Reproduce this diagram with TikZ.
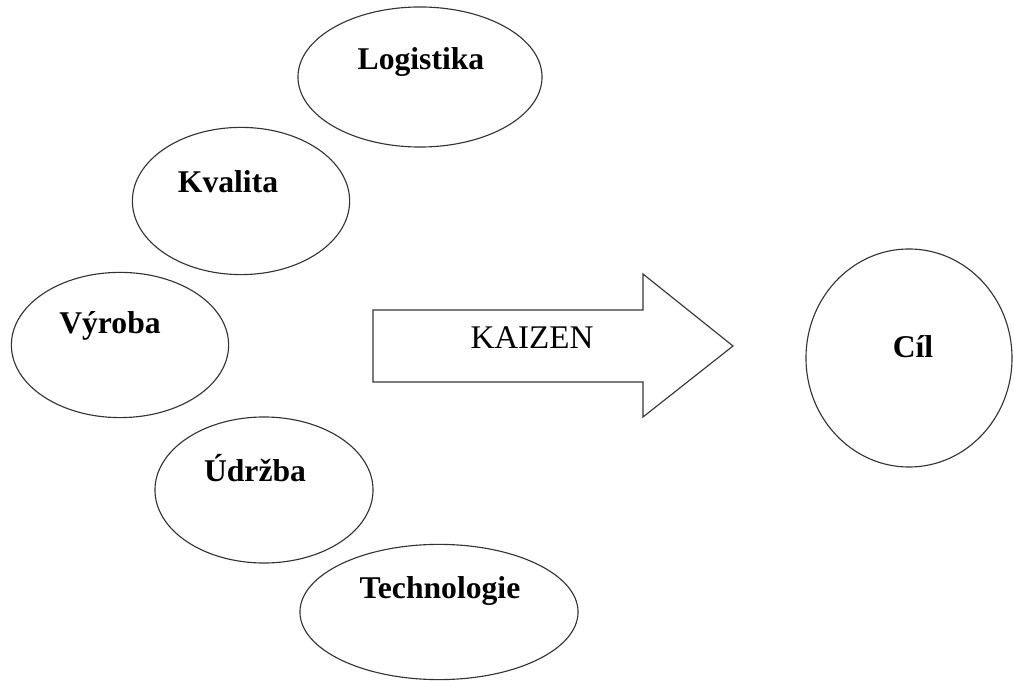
\documentclass[tikz,border=0pt]{standalone}
\usepackage{fontspec}
\setmainfont{Liberation Serif}
\usetikzlibrary{shapes.geometric}
\begin{document}
\begin{tikzpicture}[x=0.025cm,y=-0.025cm,
        area/.style={ellipse,draw=black!80,line width=0.8pt,inner sep=0pt,outer sep=0pt},
        lbl/.style={font=\fontsize{22.5}{24}\selectfont\bfseries,inner sep=0pt}]
\useasboundingbox (0,0) rectangle (1014,681);

\node[area,minimum width=6.1cm,minimum height=3.5cm] (logistika) at (420,77) {};
\node[area,minimum width=5.43cm,minimum height=3.68cm] (kvalita) at (241,201) {};
\node[area,minimum width=5.43cm,minimum height=3.63cm] (vyroba) at (120,345) {};
\node[area,minimum width=5.45cm,minimum height=3.65cm] (udrzba) at (264,490) {};
\node[area,minimum width=6.95cm,minimum height=3.38cm] (technologie) at (439,612) {};
\node[area,minimum width=5.15cm,minimum height=5.45cm] (cil) at (909,358) {};

\node[lbl] (tlogistika) at (421,62) {Logistika};
\node[lbl] (tkvalita) at (228,182) {Kvalita};
\node[lbl] (tvyroba) at (110,326) {Výroba};
\node[lbl] (tudrzba) at (255,468) {Údržba};
\node[lbl] (ttechnologie) at (440,591) {Technologie};
\node[lbl] (tcil) at (913,347) {Cíl};

% arrow
\draw[draw=black!80,line width=0.8pt] (373,310) -- (643,310) -- (643,274) -- (733,346)
    -- (643,417) -- (643,382) -- (373,382) -- cycle;
\node[font=\fontsize{23.5}{25}\selectfont,inner sep=0pt] (kaizen) at (532,338) {KAIZEN};

\end{tikzpicture}
\end{document}
